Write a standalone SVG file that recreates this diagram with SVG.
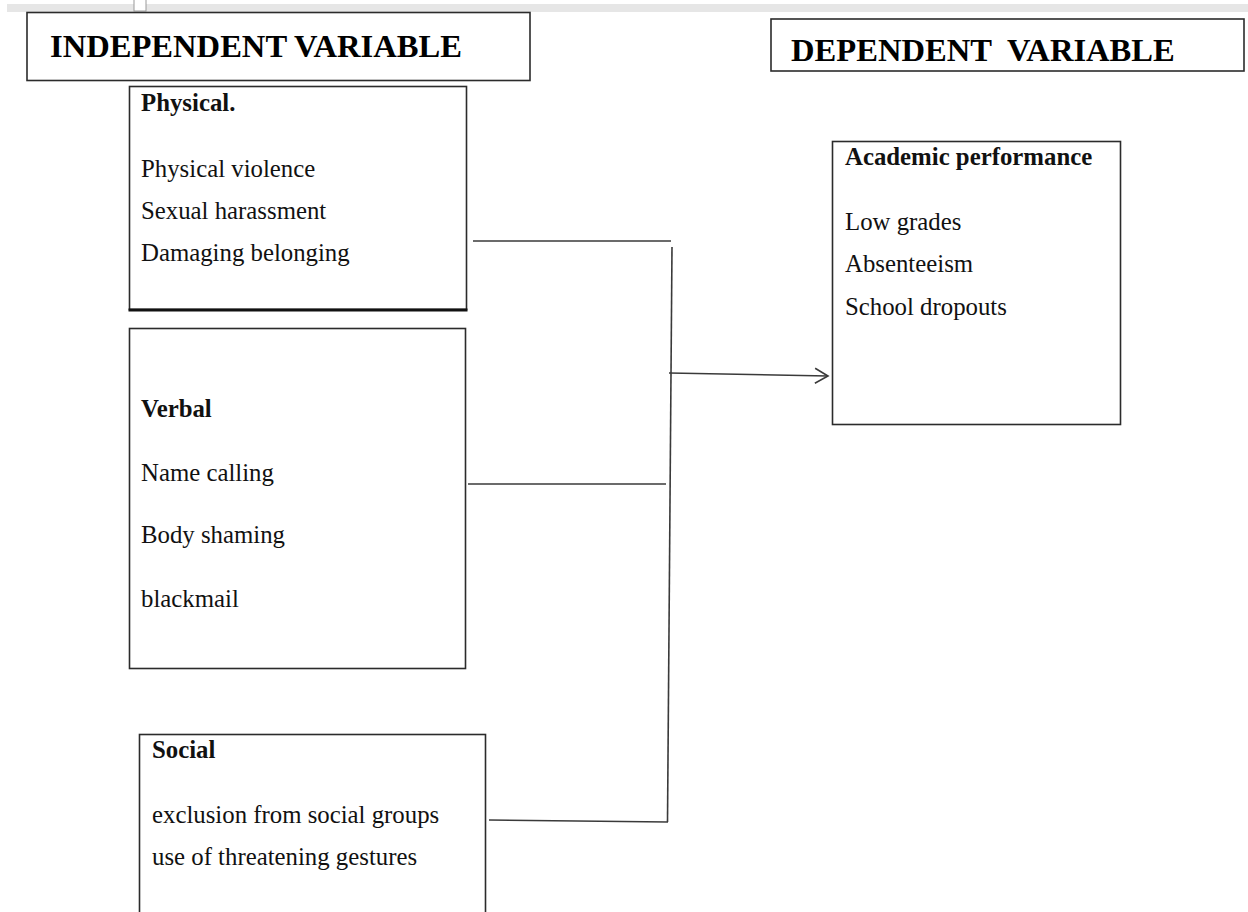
<svg xmlns="http://www.w3.org/2000/svg" width="1248" height="912" viewBox="0 0 1248 912">
<defs>
<style>
.box{fill:#fff;stroke:#2b2b2b;stroke-width:1.6}
.hd{font-family:"Liberation Serif","Times New Roman",serif;font-weight:bold;font-size:32.6px;fill:#000}
.t{font-family:"Liberation Serif","Times New Roman",serif;font-size:24.8px;fill:#111}
.b{font-family:"Liberation Serif","Times New Roman",serif;font-size:24.8px;font-weight:bold;fill:#111}
.ln{fill:none;stroke:#3a3a3a;stroke-width:1.6}
</style>
<marker id="arr" markerWidth="16" markerHeight="18" refX="14" refY="9" orient="auto" markerUnits="userSpaceOnUse">
<path d="M1,1.5 L14,9 L1,16.5" fill="none" stroke="#3a3a3a" stroke-width="1.6"/>
</marker>
</defs>
<rect width="1248" height="912" fill="#fff"/>
<rect x="7" y="4" width="1241" height="8" fill="#e6e6e6"/>
<rect x="134" y="-1" width="12" height="12" fill="#fff" stroke="#9a9a9a" stroke-width="1"/>

<g id="independent-header">
<rect class="box" x="27" y="12.5" width="503" height="68"/>
<text class="hd" x="50" y="57">INDEPENDENT VARIABLE</text>
</g>
<g id="dependent-header">
<rect class="box" x="771" y="19" width="473" height="52"/>
<text class="hd" x="791" y="61" xml:space="preserve">DEPENDENT  VARIABLE</text>
</g>

<g id="physical">
<rect class="box" x="129.5" y="86.5" width="337" height="223"/>
<line x1="128.5" y1="310" x2="467.5" y2="310" stroke="#111" stroke-width="3"/>
<text class="b" x="141" y="111">Physical.</text>
<text class="t" x="141" y="177">Physical violence</text>
<text class="t" x="141" y="219">Sexual harassment</text>
<text class="t" x="141" y="261">Damaging belonging</text>
</g>

<g id="verbal">
<rect class="box" x="129.5" y="328.5" width="336" height="340"/>
<text class="b" x="141" y="417">Verbal</text>
<text class="t" x="141" y="481">Name calling</text>
<text class="t" x="141" y="543">Body shaming</text>
<text class="t" x="141" y="607">blackmail</text>
</g>

<g id="social">
<rect class="box" x="139.5" y="734.5" width="346" height="200"/>
<text class="b" x="152" y="758">Social</text>
<text class="t" x="152" y="823">exclusion from social groups</text>
<text class="t" x="152" y="865">use of threatening gestures</text>
</g>

<g id="academic">
<rect class="box" x="832.5" y="141.5" width="288" height="283"/>
<text class="b" x="845" y="165">Academic performance</text>
<text class="t" x="845" y="230">Low grades</text>
<text class="t" x="845" y="272">Absenteeism</text>
<text class="t" x="845" y="315">School dropouts</text>
</g>

<g id="connectors">
<line class="ln" x1="473" y1="241" x2="671" y2="241"/>
<line class="ln" x1="672" y1="247" x2="667.5" y2="822"/>
<line class="ln" x1="468" y1="484" x2="666" y2="484"/>
<line class="ln" x1="489" y1="820" x2="668" y2="822"/>
<line class="ln" x1="669" y1="373" x2="828" y2="376" marker-end="url(#arr)"/>
</g>
</svg>
